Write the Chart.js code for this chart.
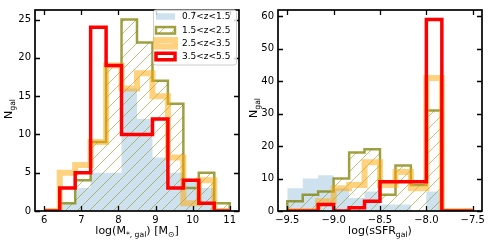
<!DOCTYPE html>
<html>
<head>
<meta charset="utf-8">
<script src="https://cdn.jsdelivr.net/npm/chart.js@4.4.0/dist/chart.umd.min.js"></script>
<style>
  body { margin: 0; background: #fff; }
  #wrap { position: relative; width: 490px; height: 244px; font-family: "DejaVu Sans", sans-serif; }
  canvas { position: absolute; top: 0; }
  .lab { position: absolute; font-size: 11px; color: #000; white-space: nowrap; line-height: 1; transform: translate(-50%, -50%); }
  .lab.rot { transform: translate(-50%, -50%) rotate(-90deg); }
  .lab sub { font-size: 7.7px; vertical-align: -0.35em; line-height: 1; }
</style>
</head>
<body>
<div id="wrap">
  <canvas id="left" width="245" height="244" style="left:0"></canvas>
  <canvas id="right" width="245" height="244" style="left:245px"></canvas>
  <div class="lab rot" style="left:10px; top:109px">N<sub>gal</sub></div>
  <div class="lab" style="left:137px; top:232px">log(M<sub>*, gal</sub>) [M<sub>⊙</sub>]</div>
  <div class="lab rot" style="left:255px; top:108px">N<sub>gal</sub></div>
  <div class="lab" style="left:380px; top:232px">log(sSFR<sub>gal</sub>)</div>
</div>
<script>
// bin edges (12 bins each)
const massBins = [6.0, 6.417, 6.833, 7.25, 7.667, 8.083, 8.5, 8.917, 9.333, 9.75, 10.167, 10.583, 11.0];
const ssfrBins = [-9.5, -9.333, -9.167, -9.0, -8.833, -8.667, -8.5, -8.333, -8.167, -8.0, -7.833, -7.667, -7.5];

const zLabels = ["0.7<z<1.5", "1.5<z<2.5", "2.5<z<3.5", "3.5<z<5.5"];

// counts per redshift bin
const massZ1 = [0, 1, 3, 5, 5, 16, 12, 7, 5, 4, 3, 0];
const massZ2 = [0, 1, 4, 9, 19, 25, 22, 17, 14, 3, 5, 1];
const massZ3 = [0, 5, 6, 9, 19, 16, 18, 15, 7, 1, 4, 0];
const massZ4 = [0, 3, 5, 24, 19, 10, 10, 12, 3, 4, 1, 0];

const ssfrZ1 = [7, 10, 11, 7, 4, 6, 2, 2, 0, 6, 0, 0];
const ssfrZ2 = [3, 5, 6, 10, 18, 19, 5, 14, 8, 31, 0, 0];
const ssfrZ3 = [0, 0, 3, 7, 8, 15, 8, 12, 7, 41, 0, 0];
const ssfrZ4 = [0, 0, 2, 0, 1, 3, 9, 9, 9, 59, 0, 0];

// tick labels
const massXTicks = [6, 7, 8, 9, 10, 11];
const massYTicks = [0, 5, 10, 15, 20, 25];
const ssfrXTicks = [-9.5, -9.0, -8.5, -8.0, -7.5];
const ssfrYTicks = [0, 10, 20, 30, 40, 50, 60];

const FONT = "DejaVu Sans";
const blueFill = "rgba(31,119,180,0.22)";
const olive = "rgba(128,128,0,0.75)";
const orange = "rgba(255,165,0,0.5)";
const red = "#ff0000";

// hatch '/' pattern
function makeHatch() {
    const c = document.createElement("canvas");
    c.width = 12; c.height = 12;
    const g = c.getContext("2d");
    g.strokeStyle = "rgba(128,128,0,0.55)";
    g.lineWidth = 0.9;
    g.beginPath();
    g.moveTo(0, 12); g.lineTo(12, 0);
    g.moveTo(-2, 2); g.lineTo(2, -2);
    g.moveTo(10, 14); g.lineTo(14, 10);
    g.stroke();
    return g.createPattern(c, "repeat");
}
const hatch = makeHatch();

// outline of a step histogram
function histPoints(edges, counts) {
    const pts = [{ x: edges[0], y: 0 }];
    counts.forEach((c, i) => {
        pts.push({ x: edges[i], y: c });
        pts.push({ x: edges[i + 1], y: c });
    });
    pts.push({ x: edges[edges.length - 1], y: 0 });
    return pts;
}

const framePlugin = {
    id: "frame",
    afterDatasetsDraw(chart) {
        const { ctx, chartArea: a, scales: { x, y } } = chart;
        ctx.save();
        ctx.strokeStyle = "#000";
        ctx.lineWidth = 1.3;
        ctx.beginPath();
        x.ticks.forEach(t => {
            const px = Math.round(x.getPixelForValue(t.value)) + 0.5;
            ctx.moveTo(px, a.bottom); ctx.lineTo(px, a.bottom - 5);
            ctx.moveTo(px, a.top); ctx.lineTo(px, a.top + 5);
        });
        y.ticks.forEach(t => {
            const py = Math.round(y.getPixelForValue(t.value)) + 0.5;
            ctx.moveTo(a.left, py); ctx.lineTo(a.left + 5, py);
            ctx.moveTo(a.right, py); ctx.lineTo(a.right - 5, py);
        });
        ctx.stroke();
        ctx.lineWidth = 1.7;
        ctx.strokeRect(a.left, a.top, a.right - a.left, a.bottom - a.top);
        ctx.restore();
    }
};

const legendPlugin = {
    id: "zlegend",
    afterDraw(chart) {
        const ctx = chart.ctx;
        ctx.save();
        ctx.fillStyle = "rgba(255,255,255,0.8)";
        ctx.strokeStyle = "#cccccc";
        ctx.lineWidth = 1;
        ctx.beginPath();
        ctx.roundRect(153.5, 10, 83, 55, 2.5);
        ctx.fill();
        ctx.stroke();

        const px = 156, pw = 19, ph = 6.5;
        const rows = [16.5, 30.3, 43.3, 56.5];
        // blue filled
        ctx.fillStyle = blueFill;
        ctx.fillRect(px, rows[0] - ph / 2, pw, ph);
        // olive hatched
        ctx.fillStyle = hatch;
        ctx.fillRect(px, rows[1] - ph / 2, pw, ph);
        ctx.strokeStyle = olive; ctx.lineWidth = 2.5; ctx.lineJoin = "miter";
        ctx.strokeRect(px, rows[1] - ph / 2, pw, ph);
        // orange thick
        ctx.strokeStyle = orange; ctx.lineWidth = 6;
        ctx.strokeRect(px, rows[2] - ph / 2, pw, ph);
        // red
        ctx.strokeStyle = red; ctx.lineWidth = 3.5;
        ctx.strokeRect(px, rows[3] - ph / 2, pw, ph);

        ctx.fillStyle = "#000";
        ctx.font = "9px '" + FONT + "'";
        ctx.textBaseline = "middle";
        zLabels.forEach((l, i) => ctx.fillText(l, 182, rows[i]));
        ctx.restore();
    }
};

function makePanel(id, edges, series, xTicks, yTicks, xMin, xMax, yMax, yWidth, padRight, xFmt, extra) {
    const tickFont = { family: FONT, size: 10 };
    const line = {
        pointRadius: 0, tension: 0, clip: 0,
        borderJoinStyle: "miter", borderCapStyle: "butt"
    };
    return new Chart(document.getElementById(id), {
        type: "line",
        data: {
            datasets: [
                Object.assign({ label: zLabels[0], data: histPoints(edges, series[0]), fill: "origin",
                    backgroundColor: blueFill, borderColor: "rgba(0,0,0,0)", borderWidth: 0, order: 4 }, line),
                Object.assign({ label: zLabels[1], data: histPoints(edges, series[1]), fill: "origin",
                    backgroundColor: hatch, borderColor: olive, borderWidth: 2.5, order: 3 }, line),
                Object.assign({ label: zLabels[2], data: histPoints(edges, series[2]), fill: false,
                    borderColor: orange, borderWidth: 6, order: 2 }, line),
                Object.assign({ label: zLabels[3], data: histPoints(edges, series[3]), fill: false,
                    borderColor: red, borderWidth: 3.5, order: 1 }, line)
            ]
        },
        options: {
            responsive: false,
            devicePixelRatio: 1,
            animation: false,
            events: [],
            layout: { padding: { left: 0, right: padRight, top: 5, bottom: 0 } },
            plugins: { legend: { display: false }, tooltip: { enabled: false } },
            scales: {
                x: {
                    type: "linear", min: xMin, max: xMax,
                    grid: { display: false, drawTicks: false },
                    border: { display: false },
                    ticks: { font: tickFont, color: "#000", padding: 3, maxRotation: 0, autoSkip: false, callback: xFmt },
                    afterBuildTicks: s => { s.ticks = xTicks.map(v => ({ value: v })); },
                    afterFit: s => { s.height = 33; }
                },
                y: {
                    type: "linear", min: 0, max: yMax,
                    grid: { display: false, drawTicks: false },
                    border: { display: false },
                    ticks: { font: tickFont, color: "#000", padding: 4, autoSkip: false, callback: v => String(v) },
                    afterBuildTicks: s => { s.ticks = yTicks.map(v => ({ value: v })); },
                    afterFit: s => { s.width = yWidth; }
                }
            }
        },
        plugins: [framePlugin].concat(extra)
    });
}

makePanel("left", massBins, [massZ1, massZ2, massZ3, massZ4], massXTicks, massYTicks,
    5.75, 11.25, 26.25, 35, 6, v => String(v), [legendPlugin]);

makePanel("right", ssfrBins, [ssfrZ1, ssfrZ2, ssfrZ3, ssfrZ4], ssfrXTicks, ssfrYTicks,
    -9.6, -7.4, 61.95, 33, 8, v => v.toFixed(1).replace("-", "\u2212"), []);
</script>
</body>
</html>
